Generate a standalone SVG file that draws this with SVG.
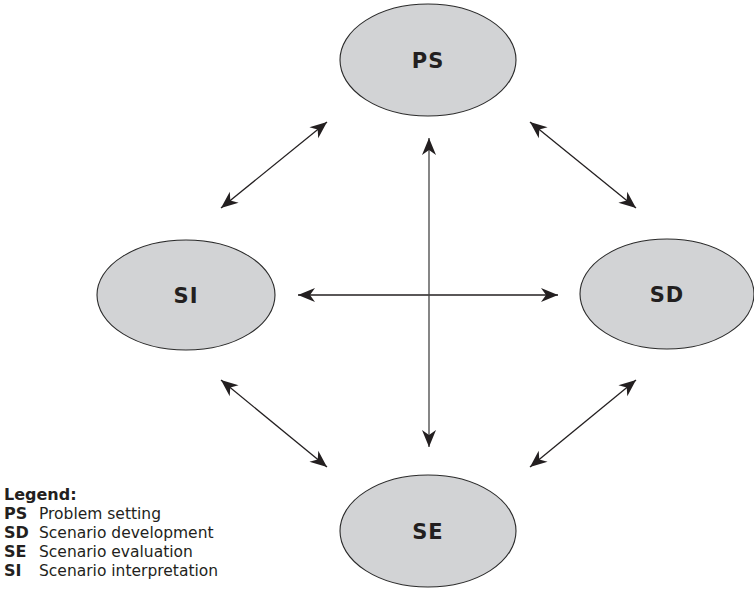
<svg xmlns="http://www.w3.org/2000/svg" width="754" height="589" viewBox="0 0 754 589">
<style>
.node{fill:#d2d3d5;stroke:#2a2a2a;stroke-width:1.1}
.lbl{font-family:"DejaVu Sans",sans-serif;font-weight:bold;font-size:21px;letter-spacing:1px;fill:#231f20;text-anchor:middle;dominant-baseline:central}
.con{stroke:#231f20;stroke-width:1.3;fill:none;marker-start:url(#ah);marker-end:url(#ah)}
.lg{font-family:"DejaVu Sans",sans-serif;font-size:15.5px;fill:#231f20}
.lgb{font-weight:bold;font-size:16px}
</style>
<defs>
<marker id="ah" viewBox="-18 -8 19 16" refX="0" refY="0" markerWidth="19" markerHeight="16" markerUnits="userSpaceOnUse" orient="auto-start-reverse">
<path d="M0,0 L-17,-7 L-12,0 L-17,7 Z" fill="#231f20"/>
</marker>
</defs>
<rect width="754" height="589" fill="#fff"/>
<g id="connectors">
<line class="con" x1="221" y1="208" x2="327" y2="122"/>
<line class="con" x1="530" y1="122" x2="636" y2="208"/>
<line class="con" x1="221" y1="380" x2="327" y2="467"/>
<line class="con" x1="636" y1="380" x2="530" y2="467"/>
<line class="con" x1="298" y1="295" x2="558" y2="295"/>
<line class="con" x1="429" y1="138" x2="429" y2="447" style="stroke:#444"/>
</g>
<g id="PS"><ellipse class="node" cx="428" cy="60" rx="88" ry="56"/><text class="lbl" x="428" y="61">PS</text></g>
<g id="SI"><ellipse class="node" cx="186" cy="295" rx="89" ry="55"/><text class="lbl" x="186" y="296">SI</text></g>
<g id="SD"><ellipse class="node" cx="667" cy="294" rx="87" ry="55"/><text class="lbl" x="667" y="295">SD</text></g>
<g id="SE"><ellipse class="node" cx="428" cy="531" rx="88" ry="56"/><text class="lbl" x="428" y="532">SE</text></g>
<g id="legend" class="lg">
<text x="4" y="500" class="lgb">Legend:</text>
<text x="4" y="519"><tspan class="lgb">PS</tspan><tspan x="39">Problem setting</tspan></text>
<text x="4" y="538"><tspan class="lgb">SD</tspan><tspan x="39">Scenario development</tspan></text>
<text x="4" y="557"><tspan class="lgb">SE</tspan><tspan x="39">Scenario evaluation</tspan></text>
<text x="4" y="576"><tspan class="lgb">SI</tspan><tspan x="39">Scenario interpretation</tspan></text>
</g>
</svg>
